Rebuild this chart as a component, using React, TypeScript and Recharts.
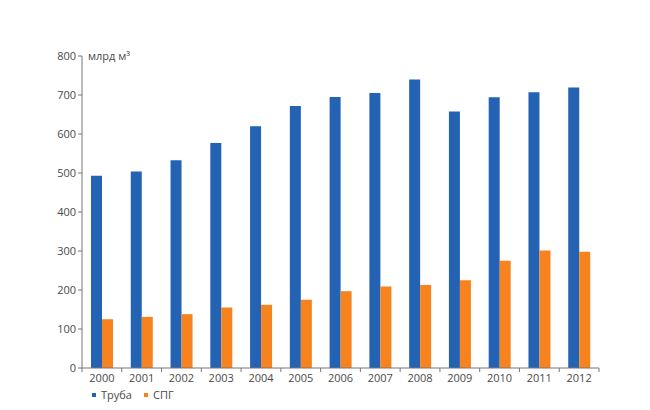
import React from 'react';
import { BarChart, Bar, XAxis, YAxis, Legend } from 'recharts';

const years = ['2000','2001','2002','2003','2004','2005','2006','2007','2008','2009','2010','2011','2012'];
const pipeline = [493, 504, 533, 577, 620, 672, 695, 705, 740, 658, 694, 707, 719];
const lng = [125, 131, 138, 155, 162, 175, 197, 209, 213, 225, 275, 301, 298];
const yTicks = [0, 100, 200, 300, 400, 500, 600, 700, 800];
const seriesNames = { pipe: 'Труба', lng: 'СПГ' };
const seriesOrder = ['pipe', 'lng'];

const data = years.map((y, i) => ({ year: y, pipe: pipeline[i], lng: lng[i] }));

const BLUE = '#2462b4';
const ORANGE = '#f6831e';
const AXIS = '#777';
const TEXT = '#4a4a4a';
const FONT = '"Open Sans", "Noto Sans", sans-serif';

const W = 642;
const H = 402;
const M = { top: 48, right: 51, left: 0, bottom: 12 };
const YW = 74;
const BAND = (W - M.left - M.right - YW) / years.length;

const XTick = (props: any) => {
  const { x, y, payload, index } = props;
  const half = BAND / 2;
  return (
    <g>
      <line x1={x - half} x2={x - half} y1={y - 8} y2={y - 4} stroke={AXIS} />
      {index === years.length - 1 && (
        <line x1={x + half} x2={x + half} y1={y - 8} y2={y - 4} stroke={AXIS} />
      )}
      <text x={x} y={y + 6} textAnchor="middle" fill={TEXT} fontSize={11} fontFamily={FONT}>
        {payload.value}
      </text>
    </g>
  );
};

const LegendContent = (props: any) => {
  const items = [...(props.payload || [])].sort(
    (a: any, b: any) => seriesOrder.indexOf(a.dataKey) - seriesOrder.indexOf(b.dataKey)
  );
  return (
    <div style={{ display: 'flex', fontFamily: FONT, fontSize: 11, color: TEXT, lineHeight: '14px' }}>
      {items.map((it: any, i: number) => (
        <div key={i} style={{ display: 'flex', alignItems: 'center', marginRight: 12 }}>
          <span style={{ display: 'inline-block', width: 4, height: 4, background: it.color, marginRight: 5 }} />
          <span>{it.value}</span>
        </div>
      ))}
    </div>
  );
};

const UnitLabel = (props: any) => {
  const vb = props.viewBox || {};
  return (
    <text x={(vb.x || 0) + (vb.width || 0) + 6} y={(vb.y || 0) + 3.5} fill={TEXT} fontSize={11} fontFamily={FONT}>
      млрд м³
    </text>
  );
};

export default function App() {
  return (
    <div style={{ width: W, height: H, background: '#fff' }}>
      <BarChart width={W} height={H} data={data} margin={M} barGap={0} barSize={11}>
        <XAxis
          dataKey="year"
          stroke={AXIS}
          tickLine={false}
          height={30}
          tick={<XTick />}
          interval={0}
        />
        <YAxis
          domain={[0, 800]}
          ticks={yTicks}
          width={YW}
          stroke={AXIS}
          tickSize={4}
          tick={{ fill: TEXT, fontSize: 11, fontFamily: FONT }}
          label={<UnitLabel />}
          allowDataOverflow
        />
        <Legend
          layout="horizontal"
          verticalAlign="middle"
          align="center"
          content={<LegendContent />}
          wrapperStyle={{ position: 'absolute', top: 380, left: 84, width: 'auto', height: 'auto' }}
        />
        <Bar dataKey="pipe" name={seriesNames.pipe} fill={BLUE} isAnimationActive={false} />
        <Bar dataKey="lng" name={seriesNames.lng} fill={ORANGE} isAnimationActive={false} />
      </BarChart>
    </div>
  );
}
